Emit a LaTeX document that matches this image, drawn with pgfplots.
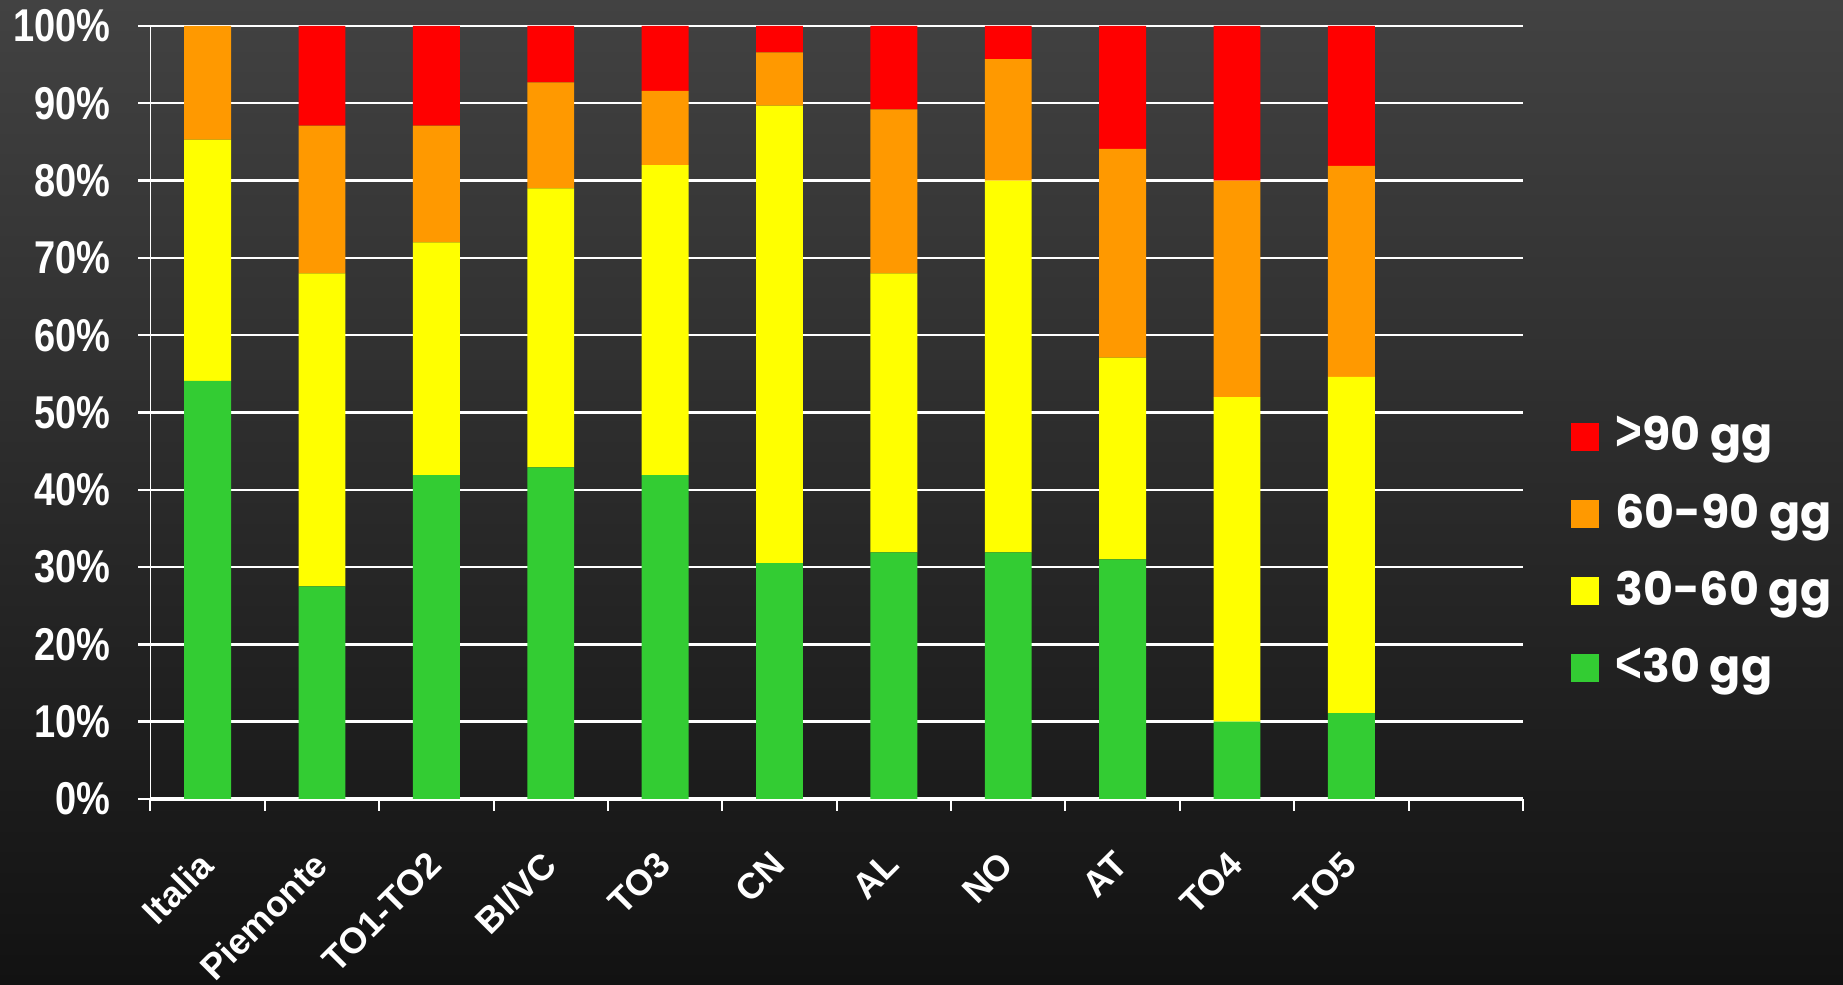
\documentclass[border=0pt]{standalone}
\usepackage{fontspec}
\setmainfont{Liberation Sans}
\newfontfamily\legfont{Poppins}
\usepackage{pgfplots}
\pgfplotsset{compat=1.18}
\definecolor{cgreen}{RGB}{51,204,51}
\definecolor{cyellow}{RGB}{255,255,0}
\definecolor{corange}{RGB}{255,153,0}
\definecolor{cred}{RGB}{255,0,0}
\definecolor{bgtop}{RGB}{66,66,66}
\definecolor{bgmid}{RGB}{36,36,36}
\definecolor{bgbot}{RGB}{18,18,18}
\newcommand{\lt}{{\fontspec{Liberation Sans}\bfseries\scalebox{1}[1.25]{<}}}
\newcommand{\gt}{{\fontspec{Liberation Sans}\bfseries\scalebox{1}[1.25]{>}}}
\pgfplotsset{sqlegend/.style={legend image code/.code={\fill[##1] (0pt,-3.5pt) rectangle (7pt,3.5pt);}}}
\begin{document}
\begin{tikzpicture}
\shade[top color=bgtop, middle color=bgmid, bottom color=bgbot] (0,0) rectangle (460.75pt,246.25pt);
\begin{axis}[
  at={(37.625pt,46.5pt)}, anchor=south west,
  scale only axis, width=343.1pt, height=193.25pt,
  ybar stacked, bar width=0.41,
  xmin=-0.5, xmax=11.5, ymin=0, ymax=100,
  xtick={0,...,10},
  xticklabels={Italia,Piemonte,TO1-TO2,BI/VC,TO3,CN,AL,NO,AT,TO4,TO5},
  major x tick style={draw=none},
  minor xtick={-0.5,0.5,...,11.5},
  minor tick length=3pt,
  minor x tick style={draw=white, line width=0.5pt},
  ytick={0,10,...,100},
  yticklabel={\scalebox{0.95}[1.15]{\pgfmathprintnumber{\tick}\%}},
  /pgf/number format/assume math mode=true,
  tick align=outside, major tick length=3pt,
  xtick pos=bottom, ytick pos=left,
  ytick style={draw=white, line width=0.6pt},
  ymajorgrids, grid style={white, line width=0.6pt},
  axis x line*=bottom, axis y line*=left,
  x axis line style={white, line width=0.8pt, -},
  y axis line style={white, line width=0.4pt, -},
  yticklabel style={font=\bfseries\fontsize{10}{12}\selectfont, text=white, xshift=-3.4pt},
  xticklabel style={font=\bfseries\fontsize{9}{10}\selectfont, text=white, xshift=-2.6pt, yshift=-4.7pt, rotate=45, anchor=north east},
  legend style={at={(1.026,0.3189)}, anchor=west, draw=none, fill=none, text=white,
    font=\legfont\bfseries\fontsize{11.5}{13}\selectfont, row sep=5.2pt, legend cell align=left,
    nodes={inner xsep=4pt}},
  reverse legend,
]
\addplot[fill=cgreen, draw=none, sqlegend] coordinates {(0,54.1) (1,27.5) (2,41.9) (3,42.9) (4,41.9) (5,30.5) (6,31.9) (7,31.9) (8,31.0) (9,10.0) (10,11.1)};
\addplot[fill=cyellow, draw=none, sqlegend] coordinates {(0,31.2) (1,40.5) (2,30.1) (3,36.1) (4,40.1) (5,59.2) (6,36.1) (7,48.1) (8,26.1) (9,42.0) (10,43.5)};
\addplot[fill=corange, draw=none, sqlegend] coordinates {(0,14.7) (1,19.1) (2,15.1) (3,13.7) (4,9.6) (5,6.9) (6,21.2) (7,15.7) (8,27.0) (9,28.0) (10,27.3)};
\addplot[fill=cred, draw=none, sqlegend] coordinates {(0,0) (1,12.9) (2,12.9) (3,7.3) (4,8.4) (5,3.4) (6,10.8) (7,4.3) (8,15.9) (9,20.0) (10,18.1)};
\legend{\lt30 gg,30-60 gg,60-90 gg,\gt90 gg}
\end{axis}
\pgfresetboundingbox
\path (0,0) rectangle (460.75pt,246.25pt);
\end{tikzpicture}
\end{document}
